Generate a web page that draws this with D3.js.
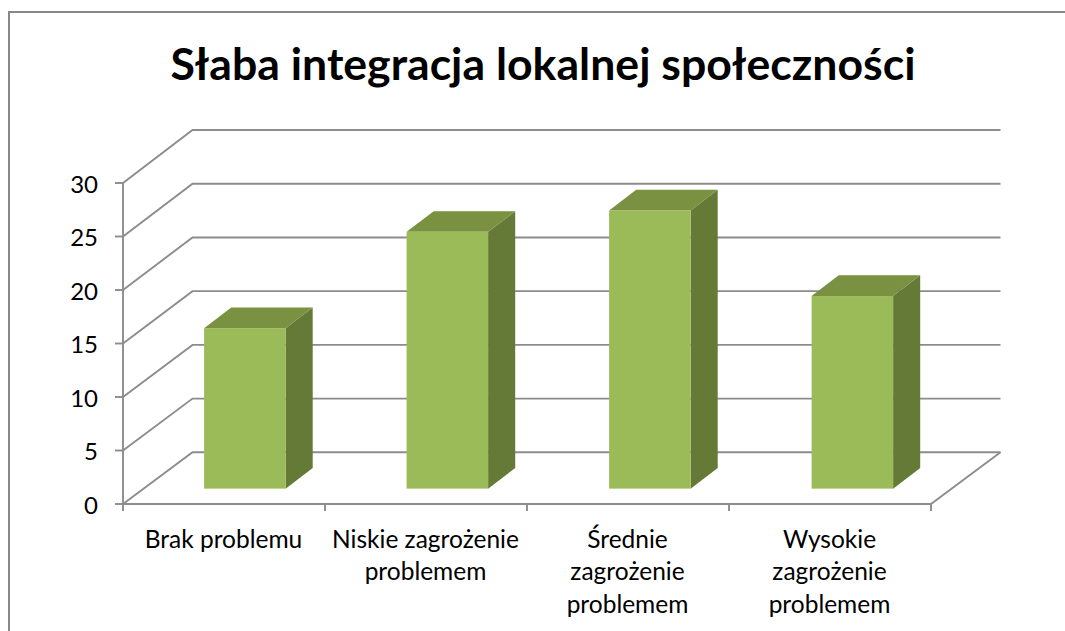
<!DOCTYPE html>
<html><head><meta charset="utf-8">
<script src="https://cdn.jsdelivr.net/npm/d3@7"></script>
<style>html,body{margin:0;padding:0;background:#fff}svg{display:block}</style></head>
<body><svg id="c" width="1065" height="631"></svg>
<script>
const title = "Słaba integracja lokalnej społeczności";
const categories = ["Brak problemu","Niskie zagrożenie problemem","Średnie zagrożenie problemem","Wysokie zagrożenie problemem"];
const categoryLines = [["Brak problemu"],["Niskie zagrożenie","problemem"],["Średnie","zagrożenie","problemem"],["Wysokie","zagrożenie","problemem"]];
const values = [15,24,26,18];
const yTicks = [0,5,10,15,20,25,30];

const svg = d3.select("#c");
const font = "Lato, 'Open Sans', sans-serif";
const gridColor = "#8c8c8c";
const x = d3.scaleBand().domain(categories).range([123,931]);
const y = d3.scaleLinear().domain([0,30]).range([504,183]);
const yBack = d3.scaleLinear().domain([0,30]).range([452.3,130]);
const xBar = d3.scaleBand().domain(categories).range([143.6,953.6]);
// depth projection: t=0 front of floor, t=1 back wall
const dX = d3.scaleLinear().domain([0,1]).range([0,69.5]);
const dY = d3.scaleLinear().domain([0,1]).range([0,-53]);
const barW = 81.5, tF = 0.29, tB = 0.68;
const xEnd = x.range()[1], x0 = x.range()[0];

const pathLine = d3.line();
svg.append("path").attr("fill","none").attr("stroke","#888").attr("stroke-width",2)
  .attr("d",pathLine([[9,631],[9,12],[1065,12]]));

svg.append("text").attr("x",543).attr("y",80).attr("text-anchor","middle")
  .attr("font-family",font).attr("font-weight",700).attr("font-size",44.6).attr("fill","#000").text(title);

const grid = svg.append("g").attr("fill","none").attr("stroke",gridColor).attr("stroke-width",1.9);
yTicks.forEach(v=>{
  grid.append("path").attr("d",pathLine([[x0,y(v)],[x0+dX(1),yBack(v)],[xEnd+dX(1),yBack(v)]]));
});
grid.append("path").attr("d",pathLine([[xEnd,y(0)],[xEnd+dX(1),yBack(0)]]));

// axes
const axG = svg.append("g").attr("stroke",gridColor).attr("stroke-width",1.9).attr("fill","none");
axG.append("path").attr("d",pathLine([[x0,y(30)],[x0,y(0)+7]]));
axG.append("path").attr("d",pathLine([[x0,y(0)],[xEnd,y(0)]]));
yTicks.forEach(v=>axG.append("path").attr("d",pathLine([[x0-8,y(v)],[x0,y(v)]])));
categories.forEach(c=>axG.append("path").attr("d",pathLine([[x(c)+x.bandwidth(),y(0)],[x(c)+x.bandwidth(),y(0)+7]])));

svg.append("g").selectAll("text").data(yTicks).join("text")
  .attr("x",98).attr("y",d=>y(d)+9.5).attr("text-anchor","end")
  .attr("font-family",font).attr("font-size",24).attr("fill","#000").text(d=>d);

// bars
const bars = svg.append("g").selectAll("g").data(categories).join("g");
bars.each(function(c,i){
  const g=d3.select(this);
  const cx=xBar(c)+xBar.bandwidth()/2;
  const l=cx-barW/2, r=cx+barW/2;
  const bot=y(0)+dY(tF), top=y(values[i])+dY(tF);
  const ox=dX(tB-tF), oy=dY(tB-tF);
  g.append("path").attr("fill","#667a37").attr("d",pathLine([[r,top],[r+ox,top+oy],[r+ox,bot+oy],[r,bot]])+"Z");
  g.append("path").attr("fill","#7a9141").attr("d",pathLine([[l,top],[l+ox,top+oy],[r+ox,top+oy],[r,top]])+"Z");
  g.append("rect").attr("x",l).attr("y",top).attr("width",barW).attr("height",bot-top).attr("fill","#9bbb59");
});

// category labels
const labels = svg.append("g").attr("font-family",font).attr("font-size",24.5).attr("fill","#000").attr("text-anchor","middle");
categories.forEach((c,i)=>{
  const t=labels.append("text").attr("x",x(c)+x.bandwidth()/2-0.5).attr("y",548);
  categoryLines[i].forEach((ln,k)=>t.append("tspan").attr("x",x(c)+x.bandwidth()/2-0.5).attr("dy",k?32.3:0).text(ln));
});
</script></body></html>
